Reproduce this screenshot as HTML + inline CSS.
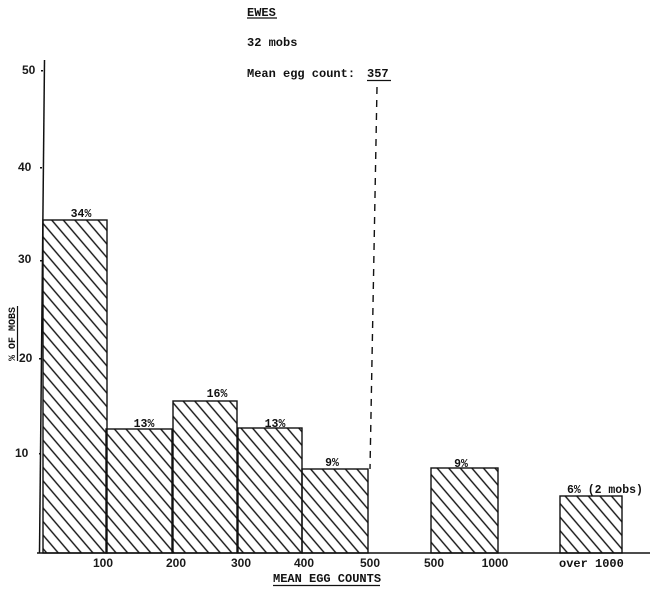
<!DOCTYPE html>
<html>
<head>
<meta charset="utf-8">
<style>
html,body{margin:0;padding:0;background:#fff;}
svg{display:block;}
.m{font-family:"Liberation Mono",monospace;font-size:12px;font-weight:bold;fill:#111;}
.s{font-family:"Liberation Sans",sans-serif;font-size:12px;font-weight:bold;fill:#1a1a1a;}
</style>
</head>
<body>
<svg width="650" height="597" viewBox="0 0 650 597" xmlns="http://www.w3.org/2000/svg">
<defs>
<pattern id="h" patternUnits="userSpaceOnUse" width="8.8" height="20" patternTransform="rotate(-40.5)">
<line x1="2" y1="0" x2="2" y2="20" stroke="#111" stroke-width="1.4"/>
</pattern>
</defs>
<rect width="650" height="597" fill="#fff"/>

<!-- title text -->
<text class="m" x="247" y="16">EWES</text>
<line x1="247" y1="18" x2="277" y2="18" stroke="#111" stroke-width="1.3"/>
<text class="m" x="247" y="46">32 mobs</text>
<text class="m" x="247" y="77">Mean egg count:</text>
<text class="m" x="367" y="77">357</text>
<line x1="367" y1="80.5" x2="391" y2="80.5" stroke="#111" stroke-width="1.3"/>

<!-- bars -->
<g stroke="#111" stroke-width="1.4">
<rect x="43" y="220" width="64" height="333" fill="url(#h)"/>
<rect x="106" y="429" width="66" height="124" fill="url(#h)"/>
<rect x="173" y="401" width="64" height="152" fill="url(#h)"/>
<rect x="238" y="428" width="64" height="125" fill="url(#h)"/>
<rect x="302" y="469" width="66" height="84" fill="url(#h)"/>
<rect x="431" y="468" width="67" height="85" fill="url(#h)"/>
<rect x="560" y="496" width="62" height="57" fill="url(#h)"/>
</g>

<!-- axes -->
<line x1="44.5" y1="60" x2="39.5" y2="553" stroke="#111" stroke-width="1.5"/>
<line x1="37" y1="553" x2="650" y2="553" stroke="#111" stroke-width="1.6"/>

<!-- dashed mean line -->
<line x1="377" y1="87" x2="370" y2="469" stroke="#111" stroke-width="1.4" stroke-dasharray="7,6"/>

<!-- y ticks -->
<g class="s">
<text x="22" y="74">50</text>
<text x="18" y="171">40</text>
<text x="18" y="263">30</text>
<text x="19" y="362">20</text>
<text x="15" y="457">10</text>
</g>
<g fill="#111">
<rect x="41" y="70" width="2" height="1.5"/>
<rect x="40" y="167" width="2" height="1.5"/>
<rect x="40" y="260" width="2" height="1.5"/>
<rect x="39" y="358" width="2" height="1.5"/>
<rect x="39" y="453" width="2" height="1.5"/>
</g>

<!-- y label -->
<text class="m" style="font-size:10px" transform="translate(15,334) rotate(-90)" text-anchor="middle">% OF MOBS</text>
<line x1="17.5" y1="306" x2="17.5" y2="361" stroke="#111" stroke-width="1.2"/>

<!-- x tick labels -->
<g class="s" text-anchor="middle">
<text x="103" y="567">100</text>
<text x="176" y="567">200</text>
<text x="241" y="567">300</text>
<text x="304" y="567">400</text>
<text x="370" y="567">500</text>
<text x="434" y="567">500</text>
<text x="495" y="567">1000</text>
</g>
<text class="m" x="559" y="567">over 1000</text>

<!-- x axis title -->
<text class="m" x="273" y="582">MEAN EGG COUNTS</text>
<line x1="273" y1="585.5" x2="380" y2="585.5" stroke="#111" stroke-width="1.3"/>

<!-- bar labels -->
<g class="m" text-anchor="middle" style="font-size:11.5px">
<text x="81" y="217">34%</text>
<text x="144" y="427">13%</text>
<text x="217" y="397">16%</text>
<text x="275" y="427">13%</text>
<text x="332" y="466">9%</text>
<text x="461" y="467">9%</text>
</g>
<text class="m" x="567" y="493" style="font-size:11.5px">6% (2 mobs)</text>
</svg>
</body>
</html>
